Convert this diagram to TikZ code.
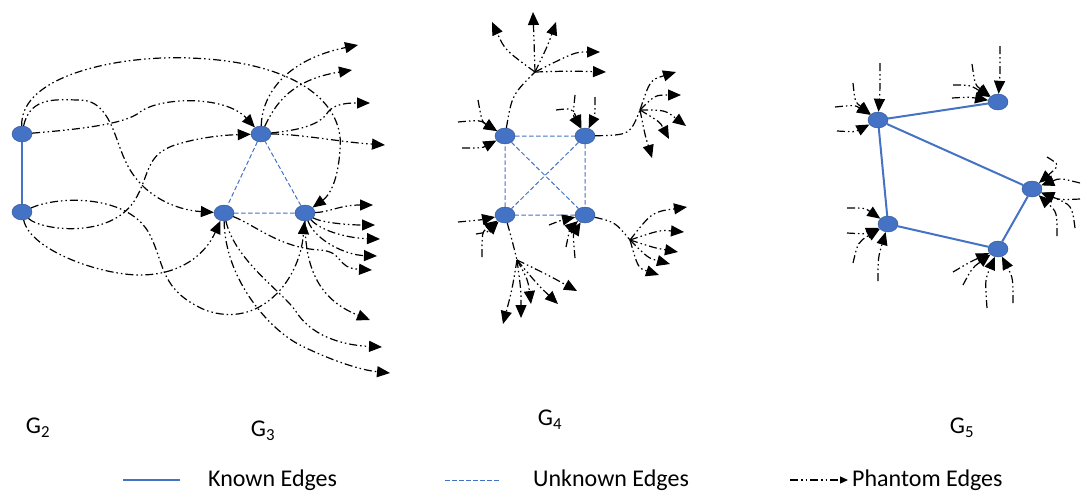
\documentclass[tikz,border=0pt]{standalone}
\usepackage{fontspec}
\setmainfont{Carlito}
\usetikzlibrary{arrows.meta,shapes.geometric}
\definecolor{nodeblue}{RGB}{68,114,196}
\definecolor{nodeedge}{RGB}{47,82,143}

\begin{document}
\begin{tikzpicture}[
  x=1pt, y=-1pt,
  font=\fontsize{24}{28}\selectfont,
  vtx/.style={ellipse, draw=nodeedge, fill=nodeblue, minimum width=20pt,
              minimum height=16pt, inner sep=0pt},
  known/.style={nodeblue, line width=2pt},
  unknown/.style={nodeblue, line width=1pt, dash pattern=on 4.5pt off 2.5pt},
  phline/.style={black, line width=1.2pt,
                 dash pattern=on 8pt off 3pt on 1.5pt off 3pt on 1.5pt off 3pt},
  phantom/.style={phline, -{Triangle[length=13pt,width=11pt]}},
  lbl/.style={inner sep=0pt}
]
\useasboundingbox (0,0) rectangle (1082,493);

% vertices
\node[vtx] (g2a) at (22,134) {};
\node[vtx] (g2b) at (22,212) {};
\node[vtx] (g3a) at (261,134) {};
\node[vtx] (g3b) at (224,213) {};
\node[vtx] (g3c) at (305,213) {};
\node[vtx] (d1) at (505,136) {};
\node[vtx] (d2) at (585,136) {};
\node[vtx] (d3) at (505,215) {};
\node[vtx] (d4) at (585,215) {};
\node[vtx] (e1) at (878,120) {};
\node[vtx] (e2) at (998,102) {};
\node[vtx] (e3) at (1032,189) {};
\node[vtx] (e4) at (998,249) {};
\node[vtx] (e5) at (888,224) {};

% known and unknown edges
\draw[known] (g2a) -- (g2b);
\draw[unknown] (g3a) -- (g3b) -- (g3c) -- (g3a);
\draw[unknown] (d1) -- (d2) -- (d4) -- (d3) -- (d1) -- (d4);
\draw[unknown] (d2) -- (d3);
\draw[known] (e1) -- (e2);
\draw[known] (e1) -- (e3);
\draw[known] (e1) -- (e5) -- (e4) -- (e3);

% free ends of phantom edges
\path (358,45) coordinate (a1) (352,70) coordinate (a2)
      (370,103) coordinate (a3) (385,145) coordinate (a4)
      (372,270) coordinate (b1) (382,347) coordinate (b2)
      (390,373) coordinate (b3)
      (373,205) coordinate (c1) (375,225) coordinate (c2)
      (380,239) coordinate (c3) (377,256) coordinate (c4)
      (370,320) coordinate (c5);
\path (535,72) coordinate (h1) (640,110) coordinate (h2)
      (517,260) coordinate (h3) (630,240) coordinate (h4);
\path (492,22) coordinate (k1) (533,12) coordinate (k2) (556,22) coordinate (k3)
      (600,52) coordinate (k4) (606,72) coordinate (k5)
      (676,72) coordinate (m1) (681,95) coordinate (m2) (686,126) coordinate (m3)
      (669,139) coordinate (m4) (652,158) coordinate (m5)
      (503,324) coordinate (n1) (521,318) coordinate (n2) (531,304) coordinate (n3)
      (558,304) coordinate (n4) (577,291) coordinate (n5)
      (687,207) coordinate (q1) (684,232) coordinate (q2) (678,252) coordinate (q3)
      (670,264) coordinate (q4) (659,275) coordinate (q5);
\path (458,122) coordinate (i1) (462,148) coordinate (i2) (478,100) coordinate (i3)
      (575,95) coordinate (i4) (595,97) coordinate (i5) (556,110) coordinate (i6)
      (458,222) coordinate (i7) (476,234) coordinate (i8) (482,257) coordinate (i9)
      (549,225) coordinate (i10) (575,258) coordinate (i11) (566,247) coordinate (i12);
\path (880,63) coordinate (j1) (853,83) coordinate (j2) (835,107) coordinate (j3)
      (837,131) coordinate (j4) (1000,46) coordinate (j5) (972,64) coordinate (j6)
      (953,85) coordinate (j7) (952,98) coordinate (j8) (1047,157) coordinate (j9)
      (1080,183) coordinate (j10) (1080,199) coordinate (j11) (1075,228) coordinate (j12)
      (1057,236) coordinate (j13) (953,272) coordinate (j14) (963,285) coordinate (j15)
      (987,308) coordinate (j16) (1013,303) coordinate (j17) (847,208) coordinate (j18)
      (847,233) coordinate (j19) (853,263) coordinate (j20) (878,281) coordinate (j21);

% G2 -> G3
\draw[phantom] (g2a) .. controls (20,75) and (120,55) .. (190,58)
  .. controls (300,62) and (345,105) .. (340,150)
  .. controls (338,180) and (330,195) .. (g3c);
\draw[phantom] (g2a) .. controls (30,95) and (60,100) .. (80,100)
  .. controls (110,100) and (115,140) .. (125,160)
  .. controls (140,195) and (175,210) .. (g3b);
\draw[phantom] (g2a) .. controls (70,130) and (125,125) .. (140,112)
  .. controls (160,97) and (225,95) .. (g3a);
\draw[phantom] (g2b) .. controls (60,195) and (130,195) .. (150,235)
  .. controls (165,265) and (160,290) .. (205,310)
  .. controls (260,330) and (300,280) .. (g3c);
\draw[phantom] (g2b) .. controls (40,230) and (110,240) .. (135,200)
  .. controls (150,175) and (145,155) .. (175,145)
  .. controls (200,137) and (225,135) .. (g3a);
\draw[phantom] (g2b) .. controls (30,250) and (100,275) .. (140,275)
  .. controls (180,275) and (205,255) .. (g3b);

% G3 outwards
\draw[phantom] (g3a) .. controls (262,95) and (285,60) .. (a1);
\draw[phantom] (g3a) .. controls (275,105) and (290,80) .. (a2);
\draw[phantom] (g3a) .. controls (300,130) and (320,125) .. (328,112)
  .. controls (335,103) and (350,103) .. (a3);
\draw[phantom] (g3a) .. controls (300,134) and (340,142) .. (a4);
\draw[phantom] (g3b) .. controls (255,225) and (280,248) .. (320,250)
  .. controls (345,252) and (335,268) .. (b1);
\draw[phantom] (g3b) .. controls (235,260) and (280,290) .. (295,310)
  .. controls (310,335) and (340,345) .. (b2);
\draw[phantom] (g3b) .. controls (225,280) and (270,330) .. (300,345)
  .. controls (330,360) and (360,370) .. (b3);
\draw[phantom] (g3c) .. controls (330,212) and (340,205) .. (c1);
\draw[phantom] (g3c) .. controls (320,222) and (345,225) .. (c2);
\draw[phantom] (g3c) .. controls (320,230) and (345,238) .. (c3);
\draw[phantom] (g3c) .. controls (315,240) and (345,255) .. (c4);
\draw[phantom] (g3c) .. controls (305,270) and (320,300) .. (c5);

% G4 hubs and fans
\draw[phline] (d1) .. controls (512,95) .. (h1);
\draw[phline] (d2) .. controls (630,135) .. (h2);
\draw[phline] (d3) .. controls (512,240) .. (h3);
\draw[phline] (d4) .. controls (615,222) .. (h4);
\foreach \t/\cx/\cy in {k1/505/50, k2/534/40, k3/548/45, k4/575/52, k5/570/71}
  \draw[phantom] (h1) .. controls (\cx,\cy) .. (\t);
\foreach \t/\cx/\cy in {m1/650/80, m2/655/95, m3/665/110, m4/660/122, m5/645/135}
  \draw[phantom] (h2) .. controls (\cx,\cy) .. (\t);
\foreach \t/\cx/\cy in {n1/512/290, n2/521/290, n3/528/280, n4/538/285, n5/548/275}
  \draw[phantom] (h3) .. controls (\cx,\cy) .. (\t);
\foreach \t/\cx/\cy in {q1/652/212, q2/660/230, q3/655/248, q4/648/258, q5/638/268}
  \draw[phantom] (h4) .. controls (\cx,\cy) .. (\t);

% incoming phantom edges, G4 and G5
\foreach \s/\n/\cx/\cy in {i1/d1/480/120, i2/d1/482/148, i3/d1/482/122,
    i4/d2/573/115, i5/d2/595/115, i6/d2/572/108,
    i7/d3/480/220, i8/d3/488/232, i9/d3/482/232,
    i10/d4/562/220, i11/d4/573/235, i12/d4/570/228,
    j1/e1/880/90, j2/e1/855/102, j3/e1/855/105, j4/e1/855/132,
    j5/e2/1000/75, j6/e2/975/85, j7/e2/970/85, j8/e2/970/97,
    j9/e3/1060/165, j10/e3/1060/178, j11/e3/1060/200, j12/e3/1072/205,
    j13/e3/1057/212, j14/e4/970/262, j15/e4/972/268, j16/e4/985/280,
    j17/e4/1013/278, j18/e5/865/208, j19/e5/865/234, j20/e5/858/242,
    j21/e5/878/258}
  \draw[phantom] (\s) .. controls (\cx,\cy) .. (\n);

% graph labels
\node[lbl] (lg2) at (38,428) {G\textsubscript{2}};
\node[lbl] (lg3) at (263,431) {G\textsubscript{3}};
\node[lbl] (lg4) at (550,420) {G\textsubscript{4}};
\node[lbl] (lg5) at (962,428) {G\textsubscript{5}};

% legend
\node[lbl, anchor=west] (tknown) at (208,480) {Known Edges};
\node[lbl, anchor=west] (tunknown) at (533,480) {Unknown Edges};
\node[lbl, anchor=west] (tphantom) at (852,480) {Phantom Edges};
\coordinate (lk1) at (123,480);
\coordinate (lk2) at (180,480);
\coordinate (lu1) at (445,480);
\coordinate (lu2) at (500,480);
\coordinate (lp1) at (790,480);
\draw[known] (lk1) -- (lk2);
\draw[unknown] (lu1) -- (lu2);
\draw[phline, -{Triangle[length=8pt,width=7pt]}] (lp1) -- ([xshift=-4pt]tphantom.west);
\end{tikzpicture}
\end{document}
